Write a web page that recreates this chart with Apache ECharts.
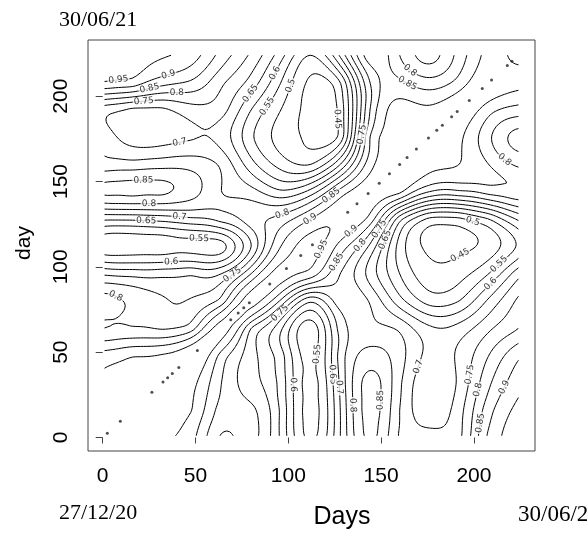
<!DOCTYPE html>
<html><head><meta charset="utf-8">
<script src="https://cdn.jsdelivr.net/npm/echarts@6/dist/echarts.min.js"></script>
<style>html,body{margin:0;padding:0;background:#fff}#c{width:588px;height:535px}</style>
</head><body><div id="c"></div>
<script>
// ---- data ----
const gridDays = [0,16,32,48,64,80,96,112,128,144,160,176,192,208,224];
// values at grid nodes, one array per row (day on the vertical axis), x = gridDays
const rowDay224 = [0.98,0.965,0.955,0.925,0.83,0.74,0.62,0.50,0.66,0.88,0.80,0.73,0.82,0.92,0.96];
const rowDay208 = [0.945,0.93,0.87,0.84,0.76,0.68,0.55,0.44,0.50,0.80,0.86,0.82,0.87,0.935,0.92];
const rowDay192 = [0.725,0.69,0.69,0.73,0.72,0.60,0.50,0.43,0.47,0.80,0.92,0.91,0.935,0.87,0.83];
const rowDay176 = [0.735,0.675,0.675,0.695,0.68,0.56,0.48,0.44,0.47,0.85,0.91,0.935,0.91,0.81,0.73];
const rowDay160 = [0.77,0.77,0.78,0.78,0.74,0.62,0.53,0.50,0.65,0.88,0.935,0.915,0.90,0.85,0.79];
const rowDay144 = [0.86,0.865,0.86,0.82,0.75,0.72,0.66,0.72,0.87,0.935,0.91,0.80,0.79,0.82,0.84];
const rowDay128 = [0.66,0.66,0.67,0.69,0.72,0.78,0.82,0.90,0.945,0.88,0.62,0.49,0.49,0.55,0.66];
const rowDay112 = [0.52,0.52,0.52,0.53,0.53,0.70,0.90,0.97,0.88,0.74,0.53,0.44,0.44,0.47,0.56];
const rowDay96  = [0.69,0.68,0.68,0.69,0.70,0.85,0.97,0.93,0.80,0.68,0.55,0.47,0.48,0.55,0.68];
const rowDay80  = [0.82,0.79,0.755,0.755,0.82,0.97,0.84,0.66,0.78,0.745,0.62,0.53,0.55,0.66,0.76];
const rowDay64  = [0.80,0.805,0.795,0.83,0.97,0.80,0.66,0.52,0.72,0.76,0.74,0.66,0.67,0.74,0.80];
const rowDay48  = [0.92,0.945,0.955,0.99,0.88,0.77,0.67,0.53,0.72,0.82,0.77,0.685,0.71,0.80,0.89];
const rowDay32  = [0.96,0.97,0.99,0.965,0.85,0.77,0.68,0.53,0.71,0.87,0.76,0.66,0.71,0.84,0.93];
const rowDay16  = [0.97,0.99,0.97,0.95,0.83,0.81,0.69,0.53,0.70,0.87,0.75,0.67,0.73,0.88,0.965];
const rowDay0   = [0.99,0.975,0.96,0.915,0.795,0.815,0.69,0.54,0.70,0.86,0.745,0.72,0.74,0.91,0.98];
// values on the diagonal between grid nodes
const diagMidDays   = [8,24,40,56,72,88,104,120,136,152,168,184,200,216];
const diagMidValues = [0.99,0.99,0.99,0.98,0.97,0.97,0.965,0.955,0.94,0.935,0.935,0.935,0.935,0.94];
// contour levels
const levels = [0.45,0.5,0.55,0.6,0.65,0.7,0.75,0.8,0.85,0.9,0.95];
// tiny marks along the diagonal (day)
const diagDotDays = [2.5,9.5,26.5,32.5,35,37.5,41,51,69,73,76,79,90,99,106.7,113,132,137,143,149,154.5,160,164,169,175.5,180,183,188,191,197.5,204.5,209.5,218,220.5];
const xTicks = [0,50,100,150,200];
const yTicks = [0,50,100,150,200];

// ---- layout ----
const XMIN=-7.92, XMAX=232.92, YMIN=-7.92, YMAX=232.92;
const GL=88, GT=40, GW=447, GH=411;
const DMIN=1, DMAX=224;

// ---- field: thin plate spline through the read values ----
const zRows=[rowDay0,rowDay16,rowDay32,rowDay48,rowDay64,rowDay80,rowDay96,rowDay112,rowDay128,rowDay144,rowDay160,rowDay176,rowDay192,rowDay208,rowDay224];
const pts=[];
for(let j=0;j<gridDays.length;j++)for(let i=0;i<gridDays.length;i++)pts.push([gridDays[i]/16,gridDays[j]/16,zRows[j][i]]);
for(let k=0;k<diagMidDays.length;k++)pts.push([diagMidDays[k]/16,diagMidDays[k]/16,diagMidValues[k]]);
const N=pts.length, M=N+3;
function phi(r2){return r2>0?0.5*r2*Math.log(r2):0;}
const A=[];const b=new Float64Array(M);
for(let i=0;i<M;i++)A.push(new Float64Array(M));
for(let i=0;i<N;i++){
  for(let j=0;j<N;j++){const dx=pts[i][0]-pts[j][0],dy=pts[i][1]-pts[j][1];A[i][j]=phi(dx*dx+dy*dy);}
  A[i][N]=1;A[i][N+1]=pts[i][0];A[i][N+2]=pts[i][1];
  A[N][i]=1;A[N+1][i]=pts[i][0];A[N+2][i]=pts[i][1];
  b[i]=pts[i][2];
}
for(let k=0;k<M;k++){
  let p=k,mx=Math.abs(A[k][k]);
  for(let i=k+1;i<M;i++){const v=Math.abs(A[i][k]);if(v>mx){mx=v;p=i;}}
  if(p!==k){const t=A[k];A[k]=A[p];A[p]=t;const tb=b[k];b[k]=b[p];b[p]=tb;}
  const akk=A[k][k];
  for(let i=k+1;i<M;i++){const f=A[i][k]/akk;if(f===0)continue;const Ai=A[i],Ak=A[k];for(let j=k;j<M;j++)Ai[j]-=f*Ak[j];b[i]-=f*b[k];}
}
const w=new Float64Array(M);
for(let i=M-1;i>=0;i--){let s=b[i];for(let j=i+1;j<M;j++)s-=A[i][j]*w[j];w[i]=s/A[i][i];}
function field(x,y){
  const u=x/16,v=y/16;let s=w[N]+w[N+1]*u+w[N+2]*v;
  for(let i=0;i<N;i++){const dx=u-pts[i][0],dy=v-pts[i][1];s+=w[i]*phi(dx*dx+dy*dy);}
  return s;
}
const NS=150;const xs=[],ys=[];
for(let i=0;i<NS;i++){xs.push(DMIN+(DMAX-DMIN)*i/(NS-1));ys.push(DMIN+(DMAX-DMIN)*i/(NS-1));}
const F=[];
for(let j=0;j<NS;j++){const r=new Float64Array(NS);for(let i=0;i<NS;i++)r[i]=field(xs[i],ys[j]);F.push(r);}

// ---- marching squares ----
function contour(level){
  const segs=[];
  for(let j=0;j<NS-1;j++)for(let i=0;i<NS-1;i++){
    const v0=F[j][i],v1=F[j][i+1],v2=F[j+1][i+1],v3=F[j+1][i];
    const c=(v0>level?1:0)|(v1>level?2:0)|(v2>level?4:0)|(v3>level?8:0);
    if(c===0||c===15)continue;
    const E=(e)=>{
      if(e===0){const t=(level-v0)/(v1-v0);return['h'+i+'_'+j,[xs[i]+t*(xs[i+1]-xs[i]),ys[j]]];}
      if(e===1){const t=(level-v1)/(v2-v1);return['v'+(i+1)+'_'+j,[xs[i+1],ys[j]+t*(ys[j+1]-ys[j])]];}
      if(e===2){const t=(level-v3)/(v2-v3);return['h'+i+'_'+(j+1),[xs[i]+t*(xs[i+1]-xs[i]),ys[j+1]]];}
      const t=(level-v0)/(v3-v0);return['v'+i+'_'+j,[xs[i],ys[j]+t*(ys[j+1]-ys[j])]];
    };
    const pr=[];
    switch(c){
      case 1:case 14:pr.push([3,0]);break;
      case 2:case 13:pr.push([0,1]);break;
      case 3:case 12:pr.push([3,1]);break;
      case 4:case 11:pr.push([1,2]);break;
      case 6:case 9:pr.push([0,2]);break;
      case 7:case 8:pr.push([2,3]);break;
      case 5:{const cen=(v0+v1+v2+v3)/4;if(cen>level){pr.push([0,1],[2,3]);}else{pr.push([0,3],[1,2]);}break;}
      case 10:{const cen=(v0+v1+v2+v3)/4;if(cen>level){pr.push([0,3],[1,2]);}else{pr.push([0,1],[2,3]);}break;}
    }
    for(const p of pr)segs.push([E(p[0]),E(p[1])]);
  }
  const byKey=new Map();
  segs.forEach((s,idx)=>{for(const e of s){if(!byKey.has(e[0]))byKey.set(e[0],[]);byKey.get(e[0]).push(idx);}});
  const used=new Uint8Array(segs.length);const out=[];
  const extend=(ch)=>{while(true){const lk=ch[ch.length-1][0];const cand=byKey.get(lk).find(k=>!used[k]);if(cand===undefined)break;used[cand]=1;const s=segs[cand];ch.push(s[0][0]===lk?s[1]:s[0]);}};
  for(let s0=0;s0<segs.length;s0++){
    if(used[s0])continue;used[s0]=1;
    const ch=[segs[s0][0],segs[s0][1]];
    extend(ch);ch.reverse();extend(ch);
    out.push(ch.map(e=>e[1]));
  }
  return out;
}
const toPx=(p)=>[(p[0]-XMIN)/(XMAX-XMIN)*GW,(YMAX-p[1])/(YMAX-YMIN)*GH];
const lineData=[],labelData=[],placed=[];
levels.forEach(level=>{
  const text=String(Math.round(level*100)/100);
  const lw=text.length*5+2;
  contour(level).forEach(line=>{
    lineData.push({coords:line});
    const P=line.map(toPx);const cum=[0];
    for(let k=1;k<P.length;k++)cum.push(cum[k-1]+Math.hypot(P[k][0]-P[k-1][0],P[k][1]-P[k-1][1]));
    const total=cum[cum.length-1];
    if(total<lw*2.2)return;
    const half=lw/2+1;let best=null,bs=Infinity;
    for(let k=0;k<P.length;k++){
      const s=cum[k];if(s<half||s>total-half)continue;
      const c=P[k];if(c[0]<half+2||c[0]>GW-half-2||c[1]<7||c[1]>GH-7)continue;
      let a=k,bb=k;while(a>0&&cum[a]>s-half)a--;while(bb<P.length-1&&cum[bb]<s+half)bb++;
      const A0=P[a],B0=P[bb];const dx=B0[0]-A0[0],dy=B0[1]-A0[1];const L=Math.hypot(dx,dy);if(L<1e-6)continue;
      let dev=0;for(let m=a;m<=bb;m++){const d=Math.abs((P[m][0]-A0[0])*dy-(P[m][1]-A0[1])*dx)/L;if(d>dev)dev=d;}
      let ok=true;for(const q of placed){if(Math.abs(q[0]-c[0])<(q[2]+lw)/2+3&&Math.abs(q[1]-c[1])<11){ok=false;break;}}
      if(!ok)continue;
      const sc=dev+0.002*Math.abs(s-total/2);
      if(sc<bs){bs=sc;let ang=Math.atan2(-dy,dx)*180/Math.PI;if(ang>90)ang-=180;if(ang<-90)ang+=180;best={k,ang};}
    }
    if(best){placed.push([P[best.k][0],P[best.k][1],lw]);labelData.push({name:text,value:line[best.k],label:{rotate:best.ang}});}
  });
});
const dotData=diagDotDays.map(d=>[d,d]);

const chart=echarts.init(document.getElementById('c'),null,{renderer:'canvas'});
const axisFont='"Liberation Sans", Arial, sans-serif';
chart.setOption({
  animation:false,
  grid:{left:GL,top:GT,width:GW,height:GH,show:true,borderColor:'#444',borderWidth:1},
  xAxis:{type:'value',min:XMIN,max:XMAX,splitLine:{show:false},axisLine:{show:false},
    axisTick:{show:true,customValues:xTicks,length:6,lineStyle:{color:'#444'}},
    axisLabel:{customValues:xTicks,fontSize:21,fontFamily:axisFont,color:'#000',margin:15}},
  yAxis:{type:'value',min:YMIN,max:YMAX,splitLine:{show:false},axisLine:{show:false},
    axisTick:{show:true,customValues:yTicks,length:7,lineStyle:{color:'#444'}},
    axisLabel:{customValues:yTicks,fontSize:21,fontFamily:axisFont,color:'#000',margin:16,rotate:90}},
  series:[
    {type:'lines',coordinateSystem:'cartesian2d',polyline:true,large:false,data:lineData,lineStyle:{color:'#000',width:1,opacity:1},silent:true,z:2},
    {type:'scatter',data:dotData,symbolSize:3,itemStyle:{color:'#222'},silent:true,z:3},
    {type:'scatter',data:labelData,symbol:'rect',symbolSize:1,itemStyle:{color:'rgba(255,255,255,0)'},silent:true,z:4,
      label:{show:true,position:'inside',formatter:'{b}',fontSize:9,fontFamily:'"DejaVu Sans", sans-serif',color:'#000',backgroundColor:'#fff',padding:[0,1]},
      labelLayout:{hideOverlap:false}}
  ],
  graphic:[
    {type:'text',x:59,y:20,style:{text:'30/06/21',font:'22px "Liberation Serif"',fill:'#000',verticalAlign:'middle'}},
    {type:'text',x:59,y:513,style:{text:'27/12/20',font:'22px "Liberation Serif"',fill:'#000',verticalAlign:'middle'}},
    {type:'text',x:518,y:515,style:{text:'30/06/21',font:'23px "Liberation Serif"',fill:'#000',verticalAlign:'middle'}},
    {type:'text',x:342,y:517,style:{text:'Days',font:'25px "Liberation Sans"',fill:'#000',align:'center',verticalAlign:'middle'}},
    {type:'text',x:24,y:243,rotation:Math.PI/2,style:{text:'day',font:'21px "Liberation Sans"',fill:'#000',align:'center',verticalAlign:'middle'}}
  ]
});
</script></body></html>
